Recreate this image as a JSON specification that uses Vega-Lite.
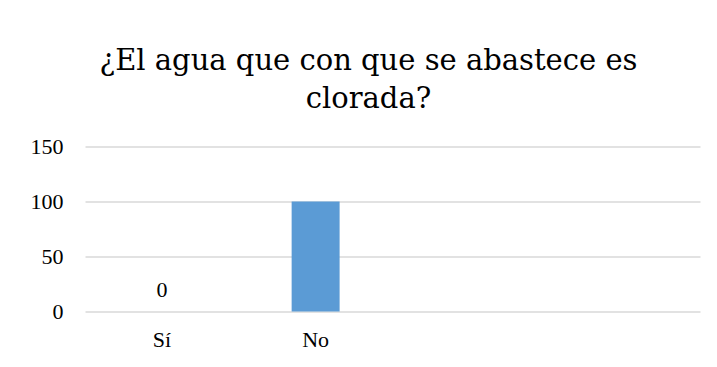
{
  "$schema": "https://vega.github.io/schema/vega-lite/v6.json",
  "width": 615,
  "height": 165,
  "autosize": {"type": "none"},
  "padding": {"left": 85, "top": 146.5, "right": 17, "bottom": 55.5},
  "background": "white",
  "title": {
    "text": ["¿El agua que con que se abastece es", "clorada?"],
    "font": "DejaVu Serif",
    "fontSize": 29,
    "fontWeight": "normal",
    "color": "#000000",
    "anchor": "middle",
    "lineHeight": 38,
    "dx": -24,
    "offset": 22
  },
  "data": {
    "values": [
      {"respuesta": "Sí", "valor": 0, "etiqueta": "0"},
      {"respuesta": "No", "valor": 100, "etiqueta": ""}
    ]
  },
  "encoding": {
    "x": {
      "field": "respuesta",
      "type": "nominal",
      "sort": null,
      "scale": {"domain": ["Sí", "No", "c3", "c4"], "paddingInner": 0.688, "paddingOuter": 0.344},
      "axis": {
        "title": null,
        "labelAngle": 0,
        "labelExpr": "datum.label == 'c3' || datum.label == 'c4' ? '' : datum.label",
        "labelFont": "Liberation Serif",
        "labelFontSize": 22,
        "labelColor": "#000000",
        "labelPadding": 18,
        "ticks": false,
        "domain": false,
        "grid": false
      }
    },
    "y": {
      "field": "valor",
      "type": "quantitative",
      "scale": {"domain": [0, 150], "nice": false},
      "axis": {
        "title": null,
        "values": [0, 50, 100, 150],
        "labelFont": "Liberation Serif",
        "labelFontSize": 22,
        "labelColor": "#000000",
        "labelPadding": 22,
        "ticks": false,
        "domain": false,
        "grid": true,
        "gridColor": "#d9d9d9",
        "gridWidth": 1.5
      }
    }
  },
  "layer": [
    {"mark": {"type": "bar", "color": "#5b9bd5"}},
    {
      "mark": {"type": "text", "font": "Liberation Serif", "fontSize": 22, "color": "#000000", "baseline": "alphabetic", "dy": -15},
      "encoding": {"text": {"field": "etiqueta"}}
    }
  ],
  "config": {
    "view": {"stroke": null}
  }
}
